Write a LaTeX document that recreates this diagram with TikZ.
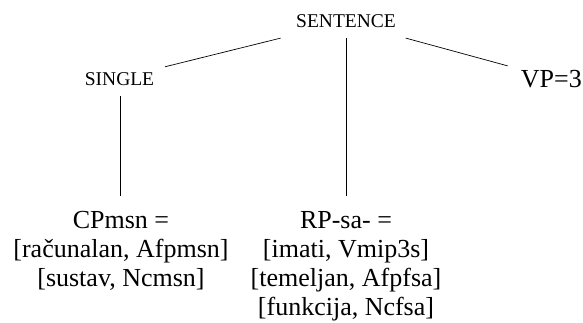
\documentclass[tikz,border=0pt]{standalone}
\usepackage{fontspec}
\setmainfont{Liberation Serif}
\begin{document}
\begin{tikzpicture}[x=1pt,y=1pt,
  small/.style={inner sep=0pt, font=\fontsize{19.5}{22}\selectfont},
  big/.style={inner sep=0pt, font=\fontsize{26}{29}\selectfont},
  conn/.style={draw=black, line width=0.7pt}]
\useasboundingbox (0,0) rectangle (583,323);
\node[small, anchor=base] (sent) at (346,295.7) {SENTENCE};
\node[small, anchor=base] (single) at (119.5,237.3) {SINGLE};
\node[big, anchor=base east] (vp) at (582,235.7) {VP=3};
\node[big, align=center, anchor=north] (cp) at (121,111.6) {CPmsn =\\ {[}računalan, Afpmsn{]}\\ {[}sustav, Ncmsn{]}};
\node[big, align=center, anchor=north] (rp) at (346,111.6) {RP-sa- =\\ {[}imati, Vmip3s{]}\\ {[}temeljan, Afpfsa{]}\\ {[}funkcija, Ncfsa{]}};
\draw[conn] ([xshift=-65.3pt,yshift=-10.4pt]sent.south) -- ([xshift=45.5pt,yshift=5.8pt]single.north);
\draw[conn] ([yshift=-10.4pt]sent.south) -- ([yshift=15.6pt]rp.north);
\draw[conn] ([xshift=59.7pt,yshift=-10.4pt]sent.south) -- ([xshift=-13pt,yshift=4pt]vp.north west);
\draw[conn] ([xshift=0.5pt,yshift=-10pt]single.south) -- ([xshift=-1pt,yshift=15.6pt]cp.north);
\end{tikzpicture}
\end{document}
